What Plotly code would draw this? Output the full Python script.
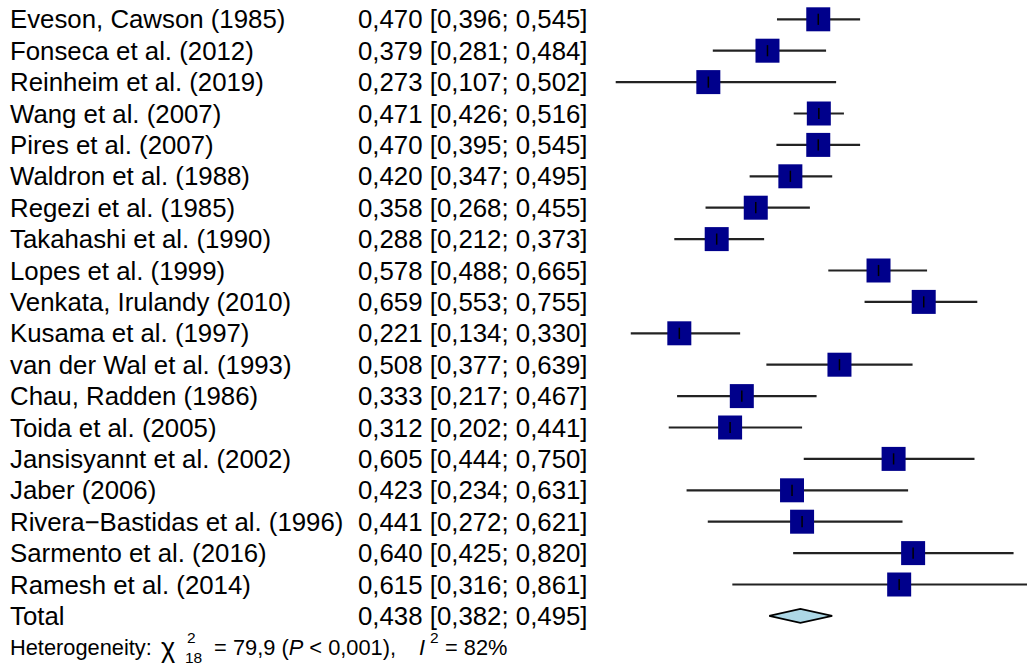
import plotly.graph_objects as go

studies = ["Eveson, Cawson (1985)", "Fonseca et al. (2012)", "Reinheim et al. (2019)",
           "Wang et al. (2007)", "Pires et al. (2007)", "Waldron et al. (1988)",
           "Regezi et al. (1985)", "Takahashi et al. (1990)", "Lopes et al. (1999)",
           "Venkata, Irulandy (2010)", "Kusama et al. (1997)", "van der Wal et al. (1993)",
           "Chau, Radden (1986)", "Toida et al. (2005)", "Jansisyannt et al. (2002)",
           "Jaber (2006)", "Rivera\u2212Bastidas et al. (1996)", "Sarmento et al. (2016)",
           "Ramesh et al. (2014)"]
est = [0.470, 0.379, 0.273, 0.471, 0.470, 0.420, 0.358, 0.288, 0.578, 0.659,
       0.221, 0.508, 0.333, 0.312, 0.605, 0.423, 0.441, 0.640, 0.615]
lower = [0.396, 0.281, 0.107, 0.426, 0.395, 0.347, 0.268, 0.212, 0.488, 0.553,
         0.134, 0.377, 0.217, 0.202, 0.444, 0.234, 0.272, 0.425, 0.316]
upper = [0.545, 0.484, 0.502, 0.516, 0.545, 0.495, 0.455, 0.373, 0.665, 0.755,
         0.330, 0.639, 0.467, 0.441, 0.750, 0.631, 0.621, 0.820, 0.861]
total_label = "Total"
total_est, total_lower, total_upper = 0.438, 0.382, 0.495
het_df, het_chi2, het_p, het_i2 = "18", "79,9", "0,001", "82%"

W, H = 1027, 666
X0_PX, X_SCALE = 556.0, 558.0      # pixel of value 0, pixels per unit
Y0_PX, ROW_PX = 19.3, 31.4          # pixel of first row center, row spacing

rows = list(range(len(studies)))
total_row = len(studies)
het_row = total_row + 1

def fmt(v):
    return f"{v:.3f}".replace(".", ",")

fig = go.Figure()

# CI lines + squares
fig.add_trace(go.Scatter(
    x=est, y=rows, mode="markers",
    marker=dict(symbol="square", size=24, color="#00008B", line=dict(width=0)),
    error_x=dict(type="data", symmetric=False,
                 array=[u - e for u, e in zip(upper, est)],
                 arrayminus=[e - l for e, l in zip(est, lower)],
                 color="#222222", thickness=2.2, width=0),
    hoverinfo="skip", showlegend=False))
# center ticks
fig.add_trace(go.Scatter(
    x=est, y=rows, mode="markers",
    marker=dict(symbol="line-ns", size=8, line=dict(width=1.5, color="#000000")),
    hoverinfo="skip", showlegend=False))

# diamond for total
dh = 7.0 / ROW_PX
fig.add_trace(go.Scatter(
    x=[total_lower, total_est, total_upper, total_est, total_lower],
    y=[total_row, total_row - dh, total_row, total_row + dh, total_row],
    mode="lines", fill="toself", fillcolor="#ADD8E6",
    line=dict(color="#000000", width=1.6),
    hoverinfo="skip", showlegend=False))

FONT = "Liberation Sans, Arial, Helvetica, sans-serif"
FS = 25.8
ann = []
labels = studies + [total_label]
ests = est + [total_est]
los = lower + [total_lower]
his = upper + [total_upper]
for i, (name, e, l, u) in enumerate(zip(labels, ests, los, his)):
    ann.append(dict(x=8 / W, y=i, xref="paper", yref="y", text=name, showarrow=False,
                    xanchor="left", yanchor="middle",
                    font=dict(family=FONT, size=FS, color="#000000")))
    ann.append(dict(x=356 / W, y=i, xref="paper", yref="y",
                    text=f"{fmt(e)} [{fmt(l)}; {fmt(u)}]", showarrow=False,
                    xanchor="left", yanchor="middle",
                    font=dict(family=FONT, size=FS, color="#000000")))

HF = 21.8
SF = 15.5
def het(px, text, dy=0.0, size=HF):
    ann.append(dict(x=px / W, y=het_row + dy, xref="paper", yref="y", text=text,
                    showarrow=False, xanchor="left", yanchor="middle",
                    font=dict(family=FONT, size=size, color="#000000")))

het(8, "Heterogeneity:")
het(159, "\u03c7", 0.03, 27)
het(185, "2", -0.30, SF)
het(183, het_df, 0.34, SF)
het(212, "=")
het(231, f"{het_chi2} (<i>P</i> &lt; {het_p}),")
het(417, "<i>I</i>")
het(428, "2", -0.30, SF)
het(443, f"= {het_i2}")

fig.update_layout(
    width=W, height=H,
    margin=dict(l=0, r=0, t=0, b=0, pad=0),
    paper_bgcolor="white", plot_bgcolor="white",
    xaxis=dict(range=[(0 - X0_PX) / X_SCALE, (W - X0_PX) / X_SCALE], visible=False,
               showgrid=False, zeroline=False, fixedrange=True),
    yaxis=dict(range=[(H - Y0_PX) / ROW_PX, (0 - Y0_PX) / ROW_PX], visible=False,
               showgrid=False, zeroline=False, fixedrange=True),
    annotations=ann,
    showlegend=False,
)

fig.write_html("out.html")
